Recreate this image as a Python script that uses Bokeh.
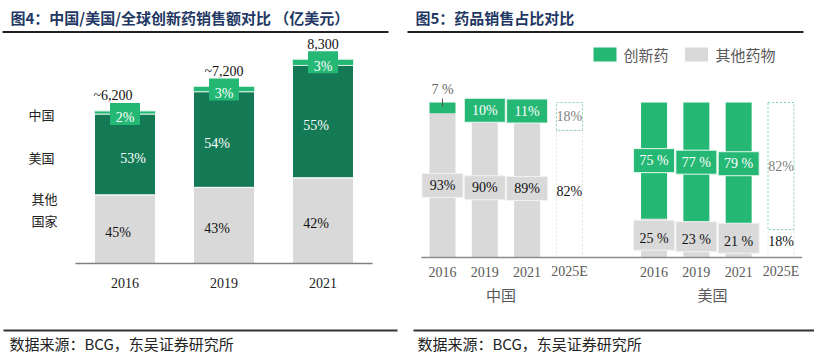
import numpy as np
from bokeh.plotting import figure
from bokeh.layouts import row
from bokeh.models import Range1d
from bokeh.core.properties import value
from bokeh.embed import file_html
from bokeh.resources import INLINE

# ---------------- data: left chart (图4) ----------------
years_left = ["2016", "2019", "2021"]
total_sales = [6200, 7200, 8300]            # 亿美元
total_labels = ["~6,200", "~7,200", "8,300"]
share_other = [45, 43, 42]                  # 其他国家 %
share_us = [53, 54, 55]                     # 美国 %
share_cn = [2, 3, 3]                        # 中国 %
row_labels = ["中国", "美国", "其他", "国家"]

# ---------------- data: right chart (图5) ----------------
groups_right = ["中国", "美国"]
years_right = ["2016", "2019", "2021", "2025E"]
cn_innov = [7, 10, 11, 18]
cn_other = [93, 90, 89, 82]
us_innov = [75, 77, 79, 82]
us_other = [25, 23, 21, 18]
cn_innov_labels = ["7 %", "10%", "11%", "18%"]
cn_other_labels = ["93%", "90%", "89%", "82%"]
us_innov_labels = ["75 %", "77 %", "79 %", "82%"]
us_other_labels = ["25 %", "23 %", "21 %", "18%"]
legend_labels = ["创新药", "其他药物"]

title_left = "图4：中国/美国/全球创新药销售额对比 （亿美元）"
title_right = "图5：药品销售占比对比"
source_note = "数据来源：BCG，东吴证券研究所"

# ---------------- styles ----------------
DARK = "#137A55"
GREEN = "#25B874"
GRAY = "#D9D9D9"
NAVY = "#1F3864"
SERIF = value("Liberation Serif")
CJK = value("Noto Sans CJK SC")


def make_fig(W, H, x0, x1, y0, y1):
    p = figure(width=W, height=H, x_range=Range1d(x0, x1), y_range=Range1d(y0, y1),
               x_axis_type=None, y_axis_type=None, toolbar_location=None,
               output_backend="svg", min_border=0, outline_line_color=None)
    p.xgrid.visible = False
    p.ygrid.visible = False
    p.background_fill_color = "white"
    p.border_fill_color = "white"
    return p


# ======================= LEFT =======================
W1, H1 = 405, 354
X0L, STEP_L = 124.5, 99.0       # px centre of first bar, px per category
BASE_L, K_L = 263.0, 0.0246     # baseline px from top, px per 亿美元
xl0, xl1 = -X0L / STEP_L, (W1 - X0L) / STEP_L
yl0, yl1 = (BASE_L - H1) / K_L, BASE_L / K_L
pl = make_fig(W1, H1, xl0, xl1, yl0, yl1)


def lx(px):
    return xl0 + px / W1 * (xl1 - xl0)


def ly(py):
    return yl1 - py / H1 * (yl1 - yl0)


idx = np.arange(len(years_left))
tot = np.array(total_sales, float)
o_v = tot * np.array(share_other) / 100
u_v = tot * np.array(share_us) / 100
c_v = tot * np.array(share_cn) / 100
bwl = 61 / STEP_L

pl.vbar(x=idx, bottom=0, top=o_v, width=bwl, fill_color=GRAY, line_color="white", line_width=1)
pl.vbar(x=idx, bottom=o_v, top=o_v + u_v, width=bwl, fill_color=DARK, line_color="white", line_width=1)
pl.vbar(x=idx, bottom=o_v + u_v, top=tot, width=bwl, fill_color=GREEN, line_color="#D3F0E2", line_width=1)

# label boxes for 中国 share
pl.rect(x=idx, y=tot - 3 / K_L, width=30, height=22, width_units="screen", height_units="screen",
        fill_color=GREEN, line_color=None)
pl.text(x=idx, y=tot, text=[f"{v}%" for v in share_cn], y_offset=7,
        text_font=SERIF, text_font_size="14px", text_color="white",
        text_align="center", text_baseline="middle")
# totals
pl.text(x=idx, y=tot, text=total_labels, y_offset=-15, x_offset=[-12, 0, 0],
        text_font=SERIF, text_font_size="14px", text_color="#111111",
        text_align="center", text_baseline="middle")
# 美国 share
pl.text(x=idx, y=o_v + u_v / 2, text=[f"{v}%" for v in share_us], y_offset=4, x_offset=[8, -7, -7],
        text_font=SERIF, text_font_size="14px", text_color="white",
        text_align="center", text_baseline="middle")
# 其他 share
pl.text(x=idx, y=o_v / 2, text=[f"{v}%" for v in share_other], y_offset=3, x_offset=-7,
        text_font=SERIF, text_font_size="14px", text_color="#111111",
        text_align="center", text_baseline="middle")
# x labels + baseline
pl.segment(x0=-0.5, x1=len(years_left) - 0.5, y0=0, y1=0, line_color="#808080", line_width=1.5)
pl.text(x=idx, y=0, text=years_left, y_offset=19,
        text_font=SERIF, text_font_size="14px", text_color="#222222",
        text_align="center", text_baseline="middle")
# row labels on the left
pl.text(x=[lx(41), lx(41), lx(44), lx(44)], y=[ly(114), ly(157), ly(198), ly(220)], text=row_labels,
        text_font=CJK, text_font_size="13px", text_color="#222222",
        text_align="center", text_baseline="middle")
# title, rules, footer
pl.text(x=[lx(10)], y=[ly(17)], text=[title_left], text_font=CJK, text_font_size="15px",
        text_font_style="bold", text_color=NAVY, text_align="left", text_baseline="middle")
pl.segment(x0=lx(2), x1=lx(388), y0=ly(31.5), y1=ly(31.5), line_color="#222222", line_width=2)
pl.segment(x0=lx(3), x1=lx(397), y0=ly(330), y1=ly(330), line_color="#333333", line_width=2)
pl.text(x=[lx(9)], y=[ly(343)], text=[source_note], text_font=CJK, text_font_size="15px",
        text_color="#222222", text_align="left", text_baseline="middle")

# ======================= RIGHT =======================
W2, H2 = 409, 354
OFF = 405
X0R, STEP_R = 442.0 - OFF, 42.31
BASE_R, K_R = 257.0, 1.55
xr0, xr1 = -X0R / STEP_R, (W2 - X0R) / STEP_R
yr0, yr1 = (BASE_R - H2) / K_R, BASE_R / K_R
pr = make_fig(W2, H2, xr0, xr1, yr0, yr1)


def rx(px):
    return xr0 + (px - OFF) / W2 * (xr1 - xr0)


def ry(py):
    return yr1 - py / H2 * (yr1 - yr0)


n = len(years_right)
bwr = 26 / STEP_R
data_r = [(cn_innov, cn_other, cn_innov_labels, cn_other_labels),
          (us_innov, us_other, us_innov_labels, us_other_labels)]

pos_all, lab_all = [], []
for g, (inn, oth, il, ol) in enumerate(data_r):
    pos = np.arange(n) + g * (n + 1)
    inn = np.array(inn, float)
    oth = np.array(oth, float)
    est = np.array([y.endswith("E") for y in years_right])
    act = ~est
    # actual bars
    pr.vbar(x=pos[act], bottom=0, top=oth[act], width=bwr, fill_color=GRAY, line_color=None)
    pr.vbar(x=pos[act], bottom=oth[act], top=100, width=bwr, fill_color=GREEN, line_color=None)
    # estimated (outline only)
    pr.vbar(x=pos[est], bottom=0, top=oth[est], width=bwr, fill_color=None,
            line_color="#E2E2E2", line_width=1, line_dash="2 2")
    pr.vbar(x=pos[est], bottom=oth[est], top=100, width=bwr, fill_color=None,
            line_color="#7FD3A9", line_width=1, line_dash="2 2")

    for j in range(n):
        gmid = oth[j] + inn[j] / 2
        omid = oth[j] / 2
        # innovative-drug label
        if est[j]:
            pr.text(x=[pos[j]], y=[gmid], text=[il[j]], text_font=SERIF, text_font_size="14px",
                    text_color="#7F7F7F", text_align="center", text_baseline="middle")
        elif inn[j] < 8:
            pr.text(x=[pos[j]], y=[100], text=[il[j]], y_offset=-13, text_font=SERIF,
                    text_font_size="14px", text_color="#666666", text_align="center",
                    text_baseline="middle")
            pr.segment(x0=[pos[j]], x1=[pos[j]], y0=[100 + 4 / K_R], y1=[100 - 4 / K_R],
                       line_color="#555555", line_width=1)
        else:
            pr.rect(x=[pos[j]], y=[gmid], width=41, height=24, width_units="screen",
                    height_units="screen", fill_color=GREEN, line_color="#E8F7EF", line_width=1)
            pr.text(x=[pos[j]], y=[gmid], text=[il[j]], text_font=SERIF, text_font_size="14px",
                    text_color="white", text_align="center", text_baseline="middle")
        # other-drug label
        if est[j]:
            pr.text(x=[pos[j]], y=[omid], text=[ol[j]], y_offset=-2, text_font=SERIF,
                    text_font_size="14px", text_color="#111111", text_align="center",
                    text_baseline="middle")
        else:
            h = 30 if oth[j] < 30 else 24
            pr.rect(x=[pos[j]], y=[omid + (3 / K_R if oth[j] < 30 else 0)], width=41, height=h,
                    width_units="screen", height_units="screen", fill_color=GRAY,
                    line_color="#F2F2F2", line_width=1)
            pr.text(x=[pos[j]], y=[omid], text=[ol[j]], text_font=SERIF, text_font_size="14px",
                    text_color="#111111", text_align="center", text_baseline="middle")
    pos_all.extend(pos.tolist())
    lab_all.extend(years_right)

# baseline + x labels + group labels
pr.segment(x0=-0.5, x1=pos_all[-1] + 0.5, y0=0, y1=0, line_color="#8C8C8C", line_width=1.5)
pr.text(x=pos_all, y=0, text=lab_all, y_offset=14, text_font=SERIF, text_font_size="14px",
        text_color="#595959", text_align="center", text_baseline="middle")
gcent = [(n - 1) / 2 + g * (n + 1) for g in range(len(groups_right))]
pr.text(x=gcent, y=0, text=groups_right, y_offset=37, x_offset=-5, text_font=CJK,
        text_font_size="15px", text_color="#595959", text_align="center", text_baseline="middle")

# legend
pr.rect(x=[rx(604.5), rx(696)], y=[ry(54), ry(54)], width=23, height=14, width_units="screen",
        height_units="screen", fill_color=[GREEN, GRAY], line_color=None)
pr.text(x=[rx(623), rx(715)], y=[ry(54), ry(54)], text=legend_labels, text_font=CJK,
        text_font_size="15px", text_color="#595959", text_align="left", text_baseline="middle")

# title, rules, footer
pr.text(x=[rx(415)], y=[ry(17)], text=[title_right], text_font=CJK, text_font_size="15px",
        text_font_style="bold", text_color=NAVY, text_align="left", text_baseline="middle")
pr.segment(x0=rx(407), x1=rx(803), y0=ry(31.5), y1=ry(31.5), line_color="#222222", line_width=2)
pr.segment(x0=rx(413), x1=rx(814), y0=ry(330), y1=ry(330), line_color="#333333", line_width=2)
pr.text(x=[rx(417)], y=[ry(343)], text=[source_note], text_font=CJK, text_font_size="15px",
        text_color="#222222", text_align="left", text_baseline="middle")

layout = row(pl, pr)
open("out.html", "w").write(file_html(layout, INLINE))
